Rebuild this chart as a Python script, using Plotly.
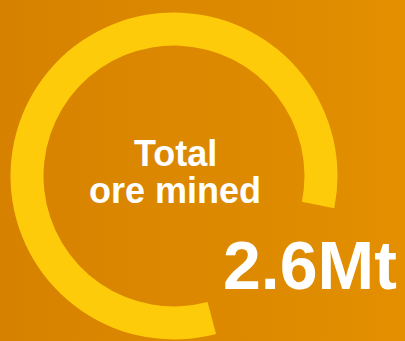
import plotly.graph_objects as go

# Ring progress: share of the annual target reached vs. the remainder
segments = ["Ore mined", "Remaining"]
shares = [82.3, 17.7]

headline_lines = ["Total", "ore mined"]
headline_value = "2.6Mt"

W, H = 405, 341
BG_LEFT, BG_RIGHT = "#D68200", "#E38F00"
RING = "#FECB0A"
FONT = "Liberation Sans, Arial, sans-serif"

fig = go.Figure()

# Soft left-to-right orange wash behind everything
fig.add_trace(go.Scatter(
    x=[0, 1, 1, 0, 0], y=[0, 0, 1, 1, 0],
    mode="lines", line=dict(width=0),
    fill="toself",
    fillgradient=dict(type="horizontal",
                      colorscale=[[0, BG_LEFT], [1, BG_RIGHT]]),
    hoverinfo="skip", showlegend=False,
))

# Ring: the filled slice runs clockwise from just right of 6 o'clock,
# over the left and top, and stops a little below 3 o'clock
cx, cy, r = 174.0, 176.0, 163.5
fig.add_trace(go.Pie(
    labels=segments, values=shares,
    sort=False, direction="clockwise", rotation=165.1,
    hole=0.798,
    marker=dict(colors=[RING, "rgba(0,0,0,0)"], line=dict(width=0)),
    textinfo="none", hoverinfo="label+value", showlegend=False,
    domain=dict(x=[(cx - r) / W, (cx + r) / W],
                y=[1 - (cy + r) / H, 1 - (cy - r) / H]),
))

ann = [
    dict(text=headline_lines[0], x=175.0 / W, y=1 - 153.4 / H, size=36),
    dict(text=headline_lines[1], x=175.0 / W, y=1 - 190.6 / H, size=36),
    dict(text=headline_value, x=309.5 / W, y=1 - 264.5 / H, size=68),
]
for a in ann:
    fig.add_annotation(
        text=a["text"], x=a["x"], y=a["y"], xref="paper", yref="paper",
        xanchor="center", yanchor="middle", showarrow=False,
        font=dict(family=FONT, size=a["size"], color="white", weight="bold"),
    )

fig.update_xaxes(visible=False, range=[0, 1], fixedrange=True)
fig.update_yaxes(visible=False, range=[0, 1], fixedrange=True)
fig.update_layout(
    width=W, height=H,
    margin=dict(l=0, r=0, t=0, b=0),
    paper_bgcolor=BG_LEFT, plot_bgcolor="rgba(0,0,0,0)",
    showlegend=False,
)

fig.write_html("out.html")
